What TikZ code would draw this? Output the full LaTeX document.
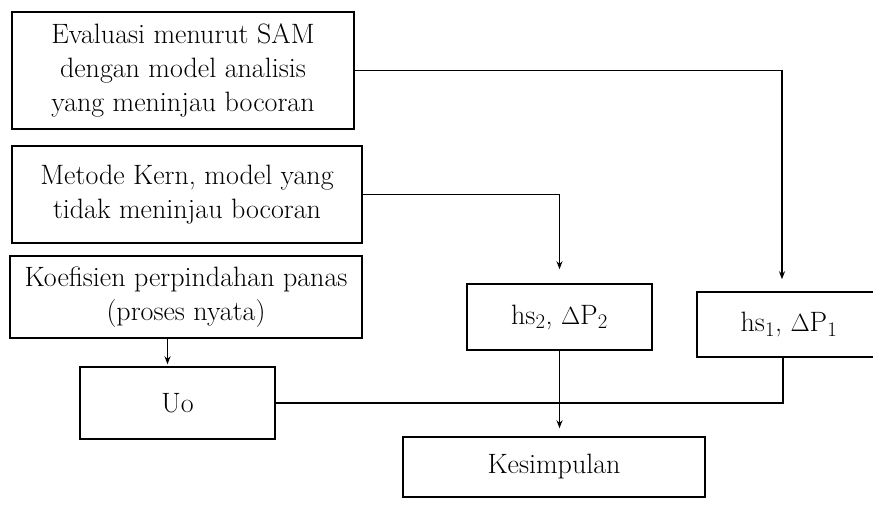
\documentclass[tikz,border=0pt]{standalone}
\usepackage{amsmath}
\usepackage{tikz}
\usetikzlibrary{
    calc,
    arrows.meta,
    positioning,
}

\begin{document}
\begin{tikzpicture}[x=1pt, y=-1pt,
        box/.style={draw, line width=1.5pt, inner sep=0pt, align=center,
            font=\fontsize{28}{34}\selectfont},
        link/.style={line width=1.5pt},
        arr/.style={link, -{Stealth[length=8pt, width=6pt]}}]
        \useasboundingbox (0,0) rectangle (873,506);

        \node[box, minimum width=342, minimum height=117] (A) at (183,70.5)
            {Evaluasi menurut SAM\\dengan model analisis\\yang meninjau bocoran};
        \node[box, minimum width=350, minimum height=97] (B) at (187,194.5)
            {Metode Kern, model yang\\tidak meninjau bocoran};
        \node[box, minimum width=352, minimum height=82] (C) at (186,297)
            {Koefisien perpindahan panas\\(proses nyata)};
        \node[box, minimum width=195, minimum height=72] (U) at (177.5,403) {Uo};
        \node[box, minimum width=185, minimum height=66] (H) at (559.5,317)
            {hs$_2$, $\Delta$P$_2$};
        \node[box, minimum width=184, minimum height=65] (G) at (789,324.5)
            {hs$_1$, $\Delta$P$_1$};
        \node[box, minimum width=302, minimum height=60] (K) at (554,467) {Kesimpulan};

        \draw[arr, shorten >=12pt] (A.east) -| ([xshift=-7pt]G.north);
        \draw[arr, shorten >=14pt] (B.east) -| (H.north);
        \draw[arr, shorten >=2pt] ([xshift=-10pt]U.north |- C.south) -- ([xshift=-10pt]U.north);
        \draw[link] (U.east) -| ([xshift=-6pt]G.south);
        \draw[arr, shorten >=8pt] (H.south) -- (H.south |- K.north);
    \end{tikzpicture}
\end{document}
